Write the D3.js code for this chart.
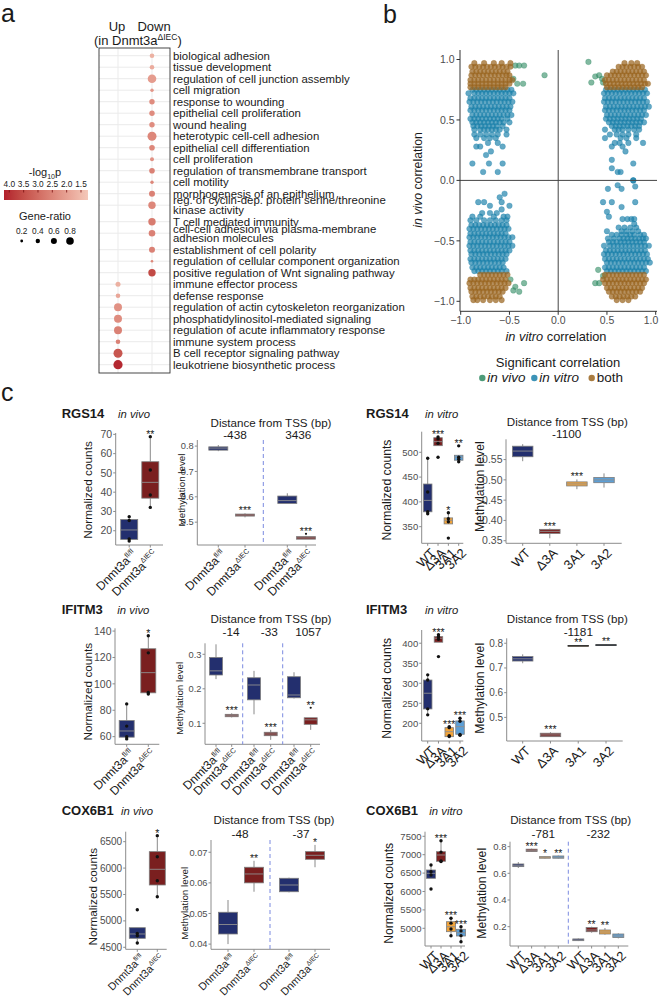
<!DOCTYPE html>
<html><head><meta charset="utf-8">
<script src="https://cdn.jsdelivr.net/npm/d3@7"></script>
<style>body{margin:0;background:#fff}svg{font-family:"Liberation Sans",Arial,Helvetica,sans-serif}</style>
</head><body><svg id="c" width="660" height="999"></svg>
<script>
// ---------------- DATA: panel a ----------------
const goTerms = [
"biological adhesion","tissue development","regulation of cell junction assembly","cell migration",
"response to wounding","epithelial cell proliferation","wound healing","heterotypic cell-cell adhesion",
"epithelial cell differentiation","cell proliferation","regulation of transmembrane transport","cell motility",
"morphogenesis of an epithelium","reg. of cyclin-dep. protein serine/threonine\nkinase activity",
"T cell mediated immunity","cell-cell adhesion via plasma-membrane\nadhesion molecules",
"establishment of cell polarity","regulation of cellular component organization",
"positive regulation of Wnt signaling pathway","immune effector process","defense response",
"regulation of actin cytoskeleton reorganization","phosphatidylinositol-mediated signaling",
"regulation of acute inflammatory response","immune system process","B cell receptor signaling pathway",
"leukotriene biosynthetic process"];
const goDirection = ["Down","Down","Down","Down","Down","Down","Down","Down","Down","Down","Down","Down","Down","Down","Down","Down","Down","Down","Down","Up","Up","Up","Up","Up","Up","Up","Up"];
const goRatio = [0.425,0.425,0.925,0.275,0.525,0.525,0.525,0.975,0.55,0.35,0.55,0.275,0.6,0.775,0.775,0.675,0.6,0.175,0.775,0.475,0.425,0.85,0.85,0.85,0.425,0.975,1.0];
const goLog10p = [1.7,1.8,2.1,2.2,2.4,2.4,2.4,2.5,2.5,2.3,2.6,2.5,2.6,2.5,2.7,2.6,2.6,2.5,3.6,1.7,1.9,2.3,2.4,2.6,2.6,3.4,4.1];
const pLegendTicks = [4.0,3.5,3.0,2.5,2.0,1.5];
const ratioLegend = [0.2,0.4,0.6,0.8];

// ---------------- DATA: panel b (x in hundredths per row of in vivo correlation) ----------------
const vitroRows = [
[75,[-88,-84,-80,-76,-72,-68,-64,-60,-56,-52,-48]],[72,[-92,-86,-82,-78,-74,-70,-66,-62,-58,-54,-50,-46]],
[68,[-90,-86,-82,-78,-74,-70,-66,-62,-58,-54,-50]],[65,[-91,-87,-83,-79,-75,-71,-67,-63,-59,-55,-51,-47]],
[61,[-89,-85,-81,-77,-73,-69,-65,-61,-57,-53,-49]],[58,[-90,-86,-82,-78,-74,-70,-66,-62,-58,-54,-50]],
[54,[-88,-84,-80,-76,-72,-68,-64,-60,-56,-52,-48]],[51,[-90,-86,-82,-78,-74,-70,-66,-62,-58,-52]],
[48,[-88,-84,-80,-76,-72,-68,-64,-60,-56,-50]],[45,[-87,-83,-79,-75,-71,-67,-63,-57]],
[42,[-86,-80,-76,-72,-68,-64,-60,-53]],[38,[-86,-80,-74,-68,-62,-53]],[35,[-84,-76,-70,-64]],
[31,[-72,-62]],[28,[-84,-80,-57]],[24,[-69]],[21,[-74]],[14,[-88,-71,-57]],[7,[-77,-62]],
[75,[49,53,57,61,65,69,73,77,81,85,89]],[72,[47,51,55,59,63,67,71,75,79,83,87,91]],
[68,[48,52,56,60,64,68,72,76,80,84,88]],[65,[47,51,55,59,63,67,71,75,79,83,87,91]],
[61,[49,53,57,61,65,69,73,77,81,85,89,93]],[58,[48,52,56,60,64,68,72,76,80,84,88]],
[54,[50,54,58,62,66,70,74,78,82,86,90]],[51,[49,53,57,61,65,69,73,77,81,85]],
[48,[52,56,60,64,68,72,76,80,84,88]],[45,[55,59,63,67,71,75,79,83]],[42,[48,58,62,66,72,78,83]],
[38,[53,60,66,72,80]],[35,[48,64,70,80]],[31,[58,63,72,87]],[28,[55,66]],[24,[69]],[17,[55]],
[14,[77]],[10,[55]],[7,[61,64]],[0,[77]],
[-11,[-55]],[-14,[-60]],[-18,[-82,-76,-58]],[-21,[-70,-50]],[-24,[-58]],[-27,[-78,-70,-63]],
[-30,[-88,-80,-66,-56,-52]],[-33,[-90,-84,-76,-70,-64,-58,-53]],
[-37,[-89,-85,-81,-77,-73,-69,-65,-61,-57,-53]],[-40,[-91,-87,-83,-79,-75,-71,-67,-63,-59,-55,-51]],
[-44,[-90,-86,-82,-78,-74,-70,-66,-62,-58,-54]],[-47,[-91,-87,-83,-79,-75,-71,-67,-63,-59,-55,-51,-47]],
[-51,[-90,-86,-82,-78,-74,-70,-66,-62,-58,-54,-50]],[-54,[-91,-87,-83,-79,-75,-71,-67,-63,-59,-55,-51,-47]],
[-58,[-90,-86,-82,-78,-74,-70,-66,-62,-58,-54,-50]],[-61,[-89,-85,-81,-77,-73,-69,-65,-61,-57,-53]],
[-65,[-90,-86,-82,-78,-74,-70,-66,-62,-58,-54]],[-68,[-89,-85,-81,-77,-73,-69,-65,-61,-57]],
[-72,[-88,-84,-80,-76,-72,-68,-64,-60,-56]],[-75,[-86,-82,-78,-74,-70,-66,-62,-58,-53]],
[0,[77]],[-4,[61]],[-5,[79]],[-7,[51,65]],[-18,[46,55,79]],[-22,[65]],[-26,[50]],[-30,[52]],
[-32,[66,71,75,78]],[-36,[78]],[-39,[62,68,74,80]],[-42,[50,65,70,76,82]],
[-45,[55,60,65,70,74,78,84,88]],[-48,[51,57,63,67,71,75,79,83,87,90]],
[-51,[52,56,60,64,68,72,76,80,84,88]],[-54,[47,53,57,61,65,69,73,77,81,85,89,93]],
[-58,[49,53,57,61,65,69,73,77,81,85,89]],[-61,[47,51,55,59,63,67,71,75,79,83,87,91]],
[-65,[48,52,56,60,64,68,72,76,80,84,88,92]],[-68,[50,54,58,62,66,70,74,78,82,86,90,94]],
[-72,[48,52,56,60,64,68,72,76,80,84,88]],[-75,[50,54,58,62,66,70,74,78,82,86,90]]];
const bothRows = [
[97,[-86,-76,-66,-58,-49]],[94,[-89,-85,-81,-77,-73,-69,-65,-61,-57,-53,-49]],
[90,[-88,-84,-80,-76,-72,-68,-64,-60,-56,-52]],[87,[-89,-85,-81,-77,-73,-69,-65,-61,-57,-53,-50]],
[83,[-90,-86,-82,-78,-74,-70,-66,-62,-58,-54,-50,-47]],[80,[-90,-86,-82,-78,-74,-70,-66,-62,-58,-54,-50]],
[77,[-90,-86,-82,-78,-74,-70,-66,-62,-58,-54]],
[97,[68,75,81]],[94,[62,66,70,74,78,82,86]],[90,[56,60,64,68,72,76,80,84,88]],
[87,[50,54,58,62,66,70,74,78,82,86,90]],[83,[48,52,56,60,64,68,72,76,80,84,88]],
[80,[49,53,57,61,65,69,73,77,81,85,89,92]],[77,[50,54,58,62,66,70,74,78,82,86]],
[-78,[-80,-76,-72,-68,-64,-60,-56,-52]],[-82,[-90,-86,-82,-78,-74,-70,-66,-62,-58,-54]],
[-85,[-91,-87,-83,-79,-75,-71,-67,-63,-59,-55,-51]],[-89,[-90,-86,-82,-78,-74,-70,-66,-62,-58,-54]],
[-92,[-89,-85,-81,-77,-73,-69,-65,-61,-57]],[-96,[-88,-84,-80,-76,-72,-68,-64,-60]],
[-99,[-87,-83,-77,-70,-64,-58]],
[-78,[48,52,56,60,64,68,72,76,80,84,88]],[-82,[46,50,54,58,62,66,70,74,78,82,86,90]],
[-85,[48,52,56,60,64,68,72,76,80,84,88]],[-89,[50,54,58,62,66,70,74,78,82,86]],
[-92,[52,56,60,64,68,72,76,80,84]],[-96,[55,59,63,67,71,75,79]],[-99,[60,66,72]]];
const vivoPoints = [[-44,95],[-40,95],[-35,95],[-14,87],[-46,84],[-42,80],[-36,80],[31,98],[42,87],[45,84],[34,81],[46,81],[38,86],
[-35,-85],[-44,-88],[-40,-92],[-46,-91],[-49,-82],[41,-74],[38,-85],[42,-85],[46,-79]];
const corrTicks = [-1.0,-0.5,0.0,0.5,1.0];
const sigCategories = ["in vivo","in vitro","both"];

// ---------------- DATA: panel c ----------------
const vivoGroups = ["fl/fl","ΔIEC"];
const vitroGroups = ["WT","Δ3A","3A1","3A2"];
// stats per facet per group: [lower whisker, Q1, median, Q3, upper whisker]
const rgs14VivoCountStats=[[[14.7,15.5,20.4,25.8,27.3],[32.1,36.9,45.1,55.8,68.8]]];
const rgs14VivoCountPoints=[[[27.3,25.3,15.8,14.7],[68.8,51.5,38.5,32.1]]];
const rgs14VivoCountStars=[["","**"]];
const rgs14VivoCountTicks=[20,30,40,50,60,70];
const rgs14VivoMethSites=["-438","3436"];
const rgs14VivoMethStats=[[[0.780,0.784,0.792,0.797,0.804],[0.519,0.524,0.528,0.532,0.535]],[[0.574,0.574,0.585,0.603,0.614],[0.433,0.433,0.438,0.443,0.446]]];
const rgs14VivoMethOutliers=[[[],[]],[[],[0.454]]];
const rgs14VivoMethStars=[["","***"],["","***"]];
const rgs14VivoMethTicks=[0.5,0.6,0.7,0.8];

const rgs14VitroCountStats=[[[376,380,403,436,488],[513.3,513.3,521.4,529.4,531],[355.6,355.6,363,367.7,378],[481,484,490,494,494]]];
const rgs14VitroCountPoints=[[[488,420,380,376],[531,527,518,490],[378,366,360,327],[513,490,486,481]]];
const rgs14VitroCountStars=[["","***","*","**"]];
const rgs14VitroCountTicks=[350,400,450,500];
const rgs14VitroMethSites=["-1100"];
const rgs14VitroMethStats=[[[0.546,0.557,0.571,0.583,0.588],[0.356,0.368,0.373,0.378,0.380],[0.477,0.485,0.490,0.495,0.501],[0.481,0.493,0.500,0.506,0.516]]];
const rgs14VitroMethStars=[["","***","***",""]];
const rgs14VitroMethTicks=[0.35,0.40,0.45,0.50,0.55];

const ifitm3VivoCountStats=[[[58.3,59.6,64.3,72.2,84.8],[92.3,93.2,108.5,126.6,136.5]]];
const ifitm3VivoCountPoints=[[[84.8,68,60,58.3],[136.5,123.5,93.5,92.3]]];
const ifitm3VivoCountStars=[["","*"]];
const ifitm3VivoCountTicks=[60,80,100,120,140];
const ifitm3VivoMethSites=["-14","-33","1057"];
const ifitm3VivoMethStats=[[[0.228,0.240,0.252,0.291,0.329],[0.117,0.119,0.122,0.126,0.129]],[[0.126,0.168,0.211,0.232,0.252],[0.052,0.064,0.069,0.074,0.081]],[[0.172,0.174,0.182,0.235,0.248],[0.081,0.097,0.110,0.116,0.116]]];
const ifitm3VivoMethOutliers=[[[],[]],[[],[]],[[],[0.145]]];
const ifitm3VivoMethStars=[["","***"],["","***"],["","**"]];
const ifitm3VivoMethTicks=[0.1,0.2,0.3];

const ifitm3VitroCountStats=[[[220.8,235.8,275,308,320.8],[402.5,402.5,412.5,416.5,421],[166.5,166.5,179,189,191.5],[169,172.5,191.5,205.8,212.5]]];
const ifitm3VitroCountPoints=[[[321,308,236,221],[421,416,410,366.5],[191.5,189,169,167],[212.5,205,172,170]]];
const ifitm3VitroCountStars=[["","***","***","***"]];
const ifitm3VitroCountTicks=[200,250,300,350,400];
const ifitm3VitroMethSites=["-1181"];
const ifitm3VitroMethStats=[[[0.719,0.728,0.737,0.746,0.755],[0.422,0.422,0.429,0.436,0.440],[0.788,0.789,0.790,0.791,0.792],[0.791,0.792,0.793,0.794,0.795]]];
const ifitm3VitroMethStars=[["","***","**","**"]];
const ifitm3VitroMethTicks=[0.5,0.6,0.7,0.8];

const cox6b1VivoCountStats=[[[4580,4670,4752,4871,4871],[5458,5680,5977,6311,6614]]];
const cox6b1VivoCountPoints=[[[5210,4760,4720,4580],[6614,6216,5761,5458]]];
const cox6b1VivoCountStars=[["","*"]];
const cox6b1VivoCountTicks=[4500,5000,5500,6000,6500];
const cox6b1VivoMethSites=["-48","-37"];
const cox6b1VivoMethStats=[[[0.0400,0.0433,0.0464,0.0504,0.0544],[0.0571,0.0600,0.0629,0.0651,0.0672]],[[0.0569,0.0571,0.0593,0.0615,0.0617],[0.0651,0.0677,0.0690,0.0702,0.0724]]];
const cox6b1VivoMethStars=[["","**"],["","*"]];
const cox6b1VivoMethTicks=[0.04,0.05,0.06,0.07];

const cox6b1VitroCountStats=[[[6359,6359,6494,6584,6720],[6821,6821,6992,7082,7380],[4799,4908,5043,5179,5272],[4636,4791,4880,4973,5043]]];
const cox6b1VitroCountPoints=[[[6720,6540,6450,6068],[7380,7070,6830,6815],[5272,5140,4980,4799],[5043,4930,4800,4636]]];
const cox6b1VitroCountStars=[["","***","***","***"]];
const cox6b1VitroCountTicks=[5000,5500,6000,6500,7000,7500];
const cox6b1VitroMethSites=["-781","-232"];
const cox6b1VitroMethStats=[[[0.640,0.650,0.660,0.670,0.684],[0.760,0.763,0.770,0.781,0.785],[0.710,0.713,0.720,0.725,0.728],[0.710,0.713,0.720,0.730,0.733]],[[0.092,0.095,0.100,0.108,0.112],[0.155,0.162,0.175,0.193,0.200],[0.140,0.145,0.160,0.175,0.190],[0.112,0.118,0.130,0.145,0.150]]];
const cox6b1VitroMethStars=[["","***","*","**"],["","**","**",""]];
const cox6b1VitroMethTicks=[0.2,0.4,0.6,0.8];

// ---------------- DRAWING ----------------
const svg = d3.select("#c");
const defs = svg.append("defs");
const TXT = "#1a1a1a", TICK = "#4d4d4d";

function label(t, x, y, fs, opts={}) {
  return svg.append("text").attr("x",x).attr("y",y).attr("font-size",fs)
    .attr("fill",opts.fill||TXT).attr("text-anchor",opts.anchor||"start")
    .attr("font-weight",opts.weight||"normal").attr("font-style",opts.style||"normal").text(t);
}
label("a",1,22,25); label("b",383,23,25); label("c",1,401,25);

// ----- panel a -----
(function(){
  const g = svg.append("g");
  const rowStep = 11.5, extraTwoLine = 5, y0 = 55.7;
  let extra = 0; const ys = [];
  goTerms.forEach((t,i)=>{ ys.push(y0 + rowStep*i + extra); if(t.includes("\n")) extra += extraTwoLine; });
  const yRow = d3.scaleOrdinal().domain(goTerms).range(ys);
  const xCol = d3.scalePoint().domain(["Up","Down"]).range([118,152]);
  const r = d3.scaleLinear().domain([0,1]).range([0.6,4.6]);
  const pDomain = [1.256,4.185];
  const col = d3.scaleLinear().domain(pDomain).range(["#f4c8ba","#b2202c"]).interpolate(d3.interpolateLab);
  const box = {x0:99,x1:170,y0:48,y1:373};
  g.selectAll(".hg").data(goTerms).join("line").attr("x1",box.x0).attr("x2",box.x1)
    .attr("y1",d=>yRow(d)).attr("y2",d=>yRow(d)).attr("stroke","#ebebeb").attr("stroke-width",1);
  g.selectAll(".vg").data(xCol.domain()).join("line").attr("x1",d=>xCol(d)).attr("x2",d=>xCol(d))
    .attr("y1",box.y0).attr("y2",box.y1).attr("stroke","#ebebeb").attr("stroke-width",1);
  g.append("rect").attr("x",box.x0).attr("y",box.y0).attr("width",box.x1-box.x0).attr("height",box.y1-box.y0)
    .attr("fill","none").attr("stroke","#333").attr("stroke-width",0.9);
  g.selectAll(".dot").data(goTerms).join("circle").attr("cx",(d,i)=>xCol(goDirection[i])).attr("cy",d=>yRow(d))
    .attr("r",(d,i)=>r(goRatio[i])).attr("fill",(d,i)=>col(goLog10p[i]));
  goTerms.forEach((t,i)=>{
    const lines = t.split("\n"); const yc = yRow(t);
    const half = i===13 ? 5 : 4.2;
    const tx = g.append("text").attr("font-size",11.4).attr("fill",TXT);
    lines.forEach((ln,k)=>{
      const off = lines.length===1 ? 0 : (k===0 ? -half : half);
      tx.append("tspan").attr("x",173).attr("y",yc+off).attr("dy","0.36em").text(ln);
    });
  });
  label("Up",xCol("Up")-1,31,13,{anchor:"middle"});
  label("Down",xCol("Down")+2,31,13,{anchor:"middle"});
  const hd = g.append("text").attr("x",94).attr("y",44.5).attr("font-size",13).attr("fill",TXT);
  hd.append("tspan").text("(in Dnmt3a");
  hd.append("tspan").attr("font-size",8.5).attr("dy",-5).text("ΔIEC");
  hd.append("tspan").attr("dy",5).text(")");
  const lx = d3.scaleLinear().domain([4.0,1.5]).range([9.3,81]);
  const grad = defs.append("linearGradient").attr("id","pgrad").attr("x1","0%").attr("x2","100%");
  d3.range(0,1.0001,0.1).forEach(t=>{
    const v = lx.invert(4 + t*84);
    grad.append("stop").attr("offset",(t*100)+"%").attr("stop-color",col(v));
  });
  g.append("rect").attr("x",lx(pDomain[1])).attr("y",190).attr("width",lx(pDomain[0])-lx(pDomain[1])).attr("height",10).attr("fill","url(#pgrad)");
  g.selectAll(".lt").data(pLegendTicks).join("line").attr("x1",d=>lx(d)).attr("x2",d=>lx(d)).attr("y1",190).attr("y2",192.5).attr("stroke","#7a1010").attr("stroke-width",0.8);
  g.selectAll(".ltl").data(pLegendTicks).join("text").attr("x",d=>lx(d)).attr("y",187).attr("text-anchor","middle")
    .attr("font-size",8.3).attr("fill",TXT).text(d=>d3.format(".1f")(d));
  const pt = g.append("text").attr("x",45).attr("y",176).attr("text-anchor","middle").attr("font-size",11).attr("fill",TXT);
  pt.append("tspan").text("-log");
  pt.append("tspan").attr("font-size",7).attr("dy",2.5).text("10");
  pt.append("tspan").attr("dy",-2.5).text("p");
  label("Gene-ratio",45,220,11,{anchor:"middle"});
  const sx = d3.scalePoint().domain(ratioLegend).range([21.7,70]);
  g.selectAll(".rl").data(ratioLegend).join("text").attr("x",d=>sx(d)).attr("y",233.5).attr("text-anchor","middle")
    .attr("font-size",8.3).attr("fill",TXT).text(d=>d3.format(".1f")(d));
  g.selectAll(".rd").data(ratioLegend).join("circle").attr("cx",d=>sx(d)).attr("cy",241).attr("r",d=>r(d)).attr("fill","#000");
})();

// ----- panel b -----
(function(){
  const g = svg.append("g");
  const x = d3.scaleLinear().domain([-1,1]).range([460.7,655.7]);
  const y = d3.scaleLinear().domain([-1,1]).range([301.3,59.5]);
  const cols = {"in vivo":"#2e8a62","in vitro":"#1a80aa","both":"#9a6520"};
  const alpha = {"in vivo":0.6,"in vitro":0.68,"both":0.72};
  const expand = rows => rows.flatMap(([yy,xs])=>xs.map(xx=>[xx/100,yy/100]));
  const sets = [["in vitro",expand(vitroRows)],["in vivo",vivoPoints.map(([a,b])=>[a/100,b/100])],["both",expand(bothRows)]];
  sets.forEach(([cat,pts])=>{
    g.selectAll(null).data(pts).join("circle").attr("cx",d=>x(d[0])).attr("cy",d=>y(d[1])).attr("r",2.8)
      .attr("fill",cols[cat]).attr("fill-opacity",alpha[cat]).attr("stroke",cols[cat]).attr("stroke-opacity",0.55).attr("stroke-width",0.5);
  });
  g.append("line").attr("x1",x(0)).attr("x2",x(0)).attr("y1",50).attr("y2",311.3).attr("stroke","#444").attr("stroke-width",1);
  g.append("line").attr("x1",460).attr("x2",657).attr("y1",y(0)).attr("y2",y(0)).attr("stroke","#444").attr("stroke-width",1);
  g.append("line").attr("x1",460).attr("x2",460).attr("y1",50).attr("y2",311.3).attr("stroke","#333");
  g.append("line").attr("x1",460).attr("x2",657).attr("y1",311.3).attr("y2",311.3).attr("stroke","#333");
  const f = d3.format(".1f");
  corrTicks.forEach(t=>{
    g.append("line").attr("x1",456.5).attr("x2",460).attr("y1",y(t)).attr("y2",y(t)).attr("stroke","#333");
    g.append("text").attr("x",454.5).attr("y",y(t)).attr("dy","0.35em").attr("text-anchor","end").attr("font-size",10.5).attr("fill",TICK).text(f(t));
    g.append("line").attr("x1",x(t)).attr("x2",x(t)).attr("y1",311.3).attr("y2",314.8).attr("stroke","#333");
    g.append("text").attr("x",Math.min(x(t),651)).attr("y",324).attr("text-anchor","middle").attr("font-size",10.5).attr("fill",TICK).text(f(t));
  });
  const yt = g.append("text").attr("transform","translate(418,180) rotate(-90)").attr("text-anchor","middle").attr("dy","0.35em").attr("font-size",12.3).attr("fill",TXT);
  yt.append("tspan").attr("font-style","italic").text("in vivo"); yt.append("tspan").text(" correlation");
  const xt = g.append("text").attr("x",556).attr("y",340.5).attr("text-anchor","middle").attr("font-size",12.8).attr("fill",TXT);
  xt.append("tspan").attr("font-style","italic").text("in vitro"); xt.append("tspan").text(" correlation");
  label("Significant correlation",558,367,13,{anchor:"middle"});
  const lgX = d3.scaleOrdinal().domain(sigCategories).range([482.3,534.3,591.7]);
  sigCategories.forEach(c=>{
    g.append("circle").attr("cx",lgX(c)).attr("cy",378).attr("r",3.2).attr("fill",cols[c]).attr("fill-opacity",0.85);
    g.append("text").attr("x",lgX(c)+5).attr("y",382).attr("font-size",13.5).attr("fill",TXT)
      .attr("font-style",c==="both"?"normal":"italic").text(c);
  });
})();

// ----- panel c -----
const boxColor = {"fl/fl":"#232f6e","ΔIEC":"#7a1f1f","WT":"#232f6e","Δ3A":"#7a1f1f","3A1":"#f2a43a","3A2":"#5c9fd6"};
let clipN = 0;
function boxPanel(p){
  const g = svg.append("g");
  const y = d3.scaleLinear().domain(p.domain).range([p.yb,p.yt]);
  const AX = "#8c8c8c";
  if(p.clip){ const id="cl"+(clipN++); defs.append("clipPath").attr("id",id).append("rect").attr("x",p.x0-60).attr("y",p.yt-40).attr("width",p.clip-p.x0+60).attr("height",p.yb-p.yt+140); g.attr("clip-path",`url(#${id})`); }
  g.append("line").attr("x1",p.x0).attr("x2",p.x0).attr("y1",p.yt).attr("y2",p.yb).attr("stroke",AX);
  g.append("line").attr("x1",p.x0).attr("x2",p.x1).attr("y1",p.yb).attr("y2",p.yb).attr("stroke",AX);
  const fmt = d3.format(p.fmt);
  p.ticks.forEach(t=>{
    g.append("line").attr("x1",p.x0-2.5).attr("x2",p.x0).attr("y1",y(t)).attr("y2",y(t)).attr("stroke",AX);
    g.append("text").attr("x",p.x0-3.5).attr("y",y(t)).attr("dy","0.35em").attr("text-anchor","end").attr("font-size",p.tickFs).attr("fill",TICK).text(fmt(t));
  });
  (p.dashes||[]).forEach(dx=>{
    g.append("line").attr("x1",dx).attr("x2",dx).attr("y1",p.yt).attr("y2",p.yb).attr("stroke","#7b8ae0").attr("stroke-width",1).attr("stroke-dasharray","4,3");
  });
  p.stats.forEach((fac,fi)=>{
    const xs = d3.scalePoint().domain(p.groups).range(p.pts[fi]);
    p.groups.forEach((grp,gi)=>{
      const s = fac[gi], cx = xs(grp), w = p.bw;
      g.append("line").attr("x1",cx).attr("x2",cx).attr("y1",y(s[0])).attr("y2",y(s[1])).attr("stroke","#8a8a8a");
      g.append("line").attr("x1",cx).attr("x2",cx).attr("y1",y(s[3])).attr("y2",y(s[4])).attr("stroke","#8a8a8a");
      const thin = (y(s[1])-y(s[3]))<1.2;
      g.append("rect").attr("x",cx-w/2).attr("y",y(s[3])).attr("width",w).attr("height",Math.max(0.8,y(s[1])-y(s[3])))
        .attr("fill",boxColor[grp]).attr("stroke",thin?"#333":"#7d7d7d").attr("stroke-width",0.8);
      g.append("line").attr("x1",cx-w/2).attr("x2",cx+w/2).attr("y1",y(s[2])).attr("y2",y(s[2])).attr("stroke",thin?"#333":"#8f8f8f").attr("stroke-width",0.9);
      let top = s[4];
      if(p.points){ p.points[fi][gi].forEach(v=>{ g.append("circle").attr("cx",cx).attr("cy",y(v)).attr("r",1.7).attr("fill","#111"); top=Math.max(top,v); }); }
      if(p.outliers){ p.outliers[fi][gi].forEach(v=>{ g.append("circle").attr("cx",cx).attr("cy",y(v)).attr("r",1.1).attr("fill","#111"); top=Math.max(top,v); }); }
      const st = p.stars[fi][gi];
      if(st) g.append("text").attr("x",cx).attr("y",y(top)+1).attr("text-anchor","middle").attr("font-size",10.5).attr("fill","#222").text(st);
      g.append("line").attr("x1",cx).attr("x2",cx).attr("y1",p.yb).attr("y2",p.yb+2.5).attr("stroke",AX);
      const t = g.append("text").attr("transform",`translate(${cx+2},${p.yb+4}) rotate(-45)`).attr("text-anchor","end").attr("font-size",p.labFs).attr("fill",TXT);
      if(p.groups===vivoGroups){
        t.append("tspan").attr("dy","0.71em").text("Dnmt3a");
        t.append("tspan").attr("font-size",p.labFs*0.6).attr("dy",-p.labFs*0.4).text(grp);
      } else t.append("tspan").attr("dy","0.71em").text(grp);
    });
  });
  svg.append("text").attr("transform",`translate(${p.tx},${p.ty}) rotate(-90)`).attr("text-anchor","middle").attr("dy","0.35em").attr("font-size",p.tfs).attr("fill",TXT).text(p.title);
  if(p.sites){
    svg.append("text").attr("x",p.distX).attr("y",p.distY).attr("dy","0.35em").attr("text-anchor","middle").attr("font-size",11.6).attr("fill",TXT).text("Distance from TSS (bp)");
    p.sites.forEach((s,i)=>svg.append("text").attr("x",p.siteX[i]).attr("y",p.siteY).attr("dy","0.35em").attr("text-anchor","middle").attr("font-size",11.8).attr("fill",TXT).text(s));
  }
}
function geneTitle(name,cond,x,y,cx){
  label(name,x,y,13,{weight:"bold"});
  label(cond,cx,y,11.3,{style:"italic"});
}
geneTitle("RGS14","in vivo",61.7,417.5,118);
geneTitle("RGS14","in vitro",366,417.5,425);
geneTitle("IFITM3","in vivo",61.7,613.5,117.3);
geneTitle("IFITM3","in vitro",366,613.5,425);
geneTitle("COX6B1","in vivo",61.7,815,121);
geneTitle("COX6B1","in vitro",366,815,429.3);

const NC="Normalized counts", ML="Methylation level";
[
 {groups:vivoGroups,stats:rgs14VivoCountStats,points:rgs14VivoCountPoints,stars:rgs14VivoCountStars,ticks:rgs14VivoCountTicks,fmt:"d",
  domain:[12.6,70.7],x0:115.7,x1:163,yb:545,yt:433,pts:[[129.2,150.3]],bw:17,tickFs:10.5,labFs:12,title:NC,tx:87.7,ty:490,tfs:11.8},
 {groups:vivoGroups,stats:rgs14VivoMethStats,outliers:rgs14VivoMethOutliers,stars:rgs14VivoMethStars,ticks:rgs14VivoMethTicks,fmt:".1f",
  domain:[0.410,0.824],x0:197.3,x1:316,clip:316,yb:545,yt:440,pts:[[218.3,245],[287.3,306]],bw:19,dashes:[263.3],tickFs:9.3,labFs:12,title:ML,tx:181.7,ty:490,tfs:9.8,
  sites:rgs14VivoMethSites,siteX:[235,298.3],siteY:435,distX:271,distY:422.7},
 {groups:vitroGroups,stats:rgs14VitroCountStats,points:rgs14VitroCountPoints,stars:rgs14VitroCountStars,ticks:rgs14VitroCountTicks,fmt:"d",
  domain:[316.5,541.5],x0:421.7,x1:463.3,yb:543.3,yt:431.7,pts:[[427.7,458.7]],bw:8.5,tickFs:9.5,labFs:13,title:NC,tx:386.7,ty:490,tfs:12.2},
 {groups:vitroGroups,stats:rgs14VitroMethStats,stars:rgs14VitroMethStars,ticks:rgs14VitroMethTicks,fmt:".2f",
  domain:[0.3436,0.600],x0:506,x1:621.7,yb:543.3,yt:439.3,pts:[[522.7,604]],bw:20.5,tickFs:10.5,labFs:13,title:ML,tx:480,ty:486.7,tfs:12.2,
  sites:rgs14VitroMethSites,siteX:[566.7],siteY:434,distX:567.3,distY:422.3},
 {groups:vivoGroups,stats:ifitm3VivoCountStats,points:ifitm3VivoCountPoints,stars:ifitm3VivoCountStars,ticks:ifitm3VivoCountTicks,fmt:"d",
  domain:[54.2,142.1],x0:115,x1:159.3,yb:744.3,yt:628.3,pts:[[126.7,148.3]],bw:15,tickFs:10.5,labFs:12,title:NC,tx:88.3,ty:691.7,tfs:11.8},
 {groups:vivoGroups,stats:ifitm3VivoMethStats,outliers:ifitm3VivoMethOutliers,stars:ifitm3VivoMethStars,ticks:ifitm3VivoMethTicks,fmt:".1f",
  domain:[0.0391,0.3319],x0:205,x1:320,yb:744.3,yt:643.3,pts:[[216,231.7],[254,270.7],[294,310.7]],bw:13,dashes:[242.7,282.7],tickFs:9.3,labFs:12,title:ML,tx:180,ty:698.3,tfs:9.8,
  sites:ifitm3VivoMethSites,siteX:[231,269.3,308.3],siteY:632.3,distX:271,distY:619.3},
 {groups:vitroGroups,stats:ifitm3VitroCountStats,points:ifitm3VitroCountPoints,stars:ifitm3VitroCountStars,ticks:ifitm3VitroCountTicks,fmt:"d",
  domain:[155.7,433],x0:421.7,x1:463.3,yb:741,yt:630,pts:[[427.7,460]],bw:8.5,tickFs:9.5,labFs:13,title:NC,tx:386.7,ty:688.3,tfs:12.2},
 {groups:vitroGroups,stats:ifitm3VitroMethStats,stars:ifitm3VitroMethStars,ticks:ifitm3VitroMethTicks,fmt:".1f",
  domain:[0.4045,0.820],x0:506.7,x1:622.7,yb:741,yt:638.3,pts:[[522.7,606]],bw:20.5,tickFs:10,labFs:13,title:ML,tx:480,ty:688.3,tfs:12.2,
  sites:ifitm3VitroMethSites,siteX:[578.3],siteY:631.7,distX:567.3,distY:619.3},
 {groups:vivoGroups,stats:cox6b1VivoCountStats,points:cox6b1VivoCountPoints,stars:cox6b1VivoCountStars,ticks:cox6b1VivoCountTicks,fmt:"d",
  domain:[4462,6689],x0:125.7,x1:166.7,yb:949.3,yt:831.7,pts:[[137.3,157.3]],bw:16,tickFs:10,labFs:10.8,title:NC,tx:92.7,ty:896.7,tfs:11.8},
 {groups:vivoGroups,stats:cox6b1VivoMethStats,stars:cox6b1VivoMethStars,ticks:cox6b1VivoMethTicks,fmt:".2f",
  domain:[0.0383,0.074],x0:211,x1:330,yb:949.3,yt:840,pts:[[228,254],[289,315]],bw:19,dashes:[270],tickFs:9.3,labFs:10.8,title:ML,tx:185,ty:903.3,tfs:9.8,
  sites:cox6b1VivoMethSites,siteX:[240,301],siteY:834,distX:274,distY:820},
 {groups:vitroGroups,stats:cox6b1VitroCountStats,points:cox6b1VitroCountPoints,stars:cox6b1VitroCountStars,ticks:cox6b1VitroCountTicks,fmt:"d",
  domain:[4519,7625],x0:425,x1:465,yb:946,yt:831.7,pts:[[431,461]],bw:9,tickFs:9.5,labFs:13,title:NC,tx:388.3,ty:893.3,tfs:12.2},
 {groups:vitroGroups,stats:cox6b1VitroMethStats,stars:cox6b1VitroMethStars,ticks:cox6b1VitroMethTicks,fmt:".1f",
  domain:[0.055,0.837],x0:510,x1:628.3,yb:946,yt:841.7,pts:[[518.3,558.3],[578.3,618.3]],bw:11,dashes:[568.3],tickFs:9.5,labFs:13,title:ML,tx:481.7,ty:893.3,tfs:12.2,
  sites:cox6b1VitroMethSites,siteX:[543.3,598.3],siteY:834,distX:570.7,distY:820}
].forEach(boxPanel);
</script></body></html>
